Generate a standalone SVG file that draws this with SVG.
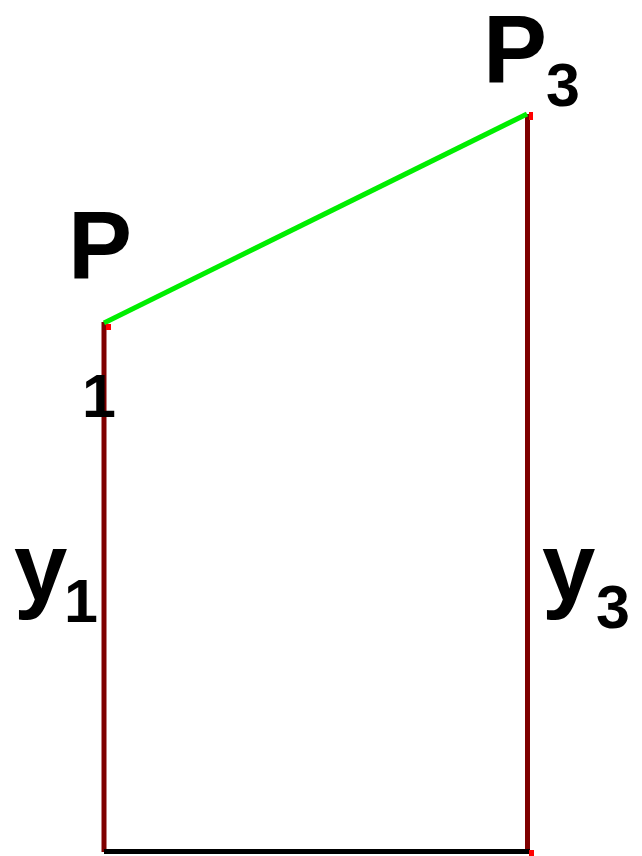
<svg xmlns="http://www.w3.org/2000/svg" width="642" height="856" viewBox="0 0 642 856">
<style>
.lbl{font-family:"Liberation Sans",Arial,sans-serif;font-weight:bold;fill:#000}
.big{font-size:96px}
.sub{font-size:61px}
.side{stroke:#7f0000;stroke-width:5;fill:none}
.mark{fill:#ff0000}
</style>
<rect width="642" height="856" fill="#ffffff"/>
<g id="connectors">
<line class="side" x1="104" y1="322" x2="104" y2="852"/>
<line class="side" x1="527.5" y1="114" x2="527.5" y2="852"/>
<line x1="104" y1="851.5" x2="530" y2="851.5" stroke="#000" stroke-width="5"/>
<line x1="104" y1="323" x2="527" y2="114" stroke="#00ee00" stroke-width="5"/>
</g>
<g id="markers">
<rect class="mark" x="106" y="324" width="5" height="6"/>
<rect class="mark" x="529" y="112" width="4" height="8"/>
<rect class="mark" x="529" y="850" width="5" height="6"/>
</g>
<g id="P1">
<text class="lbl big" x="68" y="278">P</text>
<text class="lbl sub" x="82" y="417">1</text>
</g>
<g id="P3">
<text class="lbl big" x="483" y="82">P</text>
<text class="lbl sub" x="546" y="106">3</text>
</g>
<g id="y1">
<text class="lbl big" x="14" y="600">y</text>
<text class="lbl sub" x="64" y="622">1</text>
</g>
<g id="y3">
<text class="lbl big" x="542" y="600">y</text>
<text class="lbl sub" x="596" y="628">3</text>
</g>
</svg>
